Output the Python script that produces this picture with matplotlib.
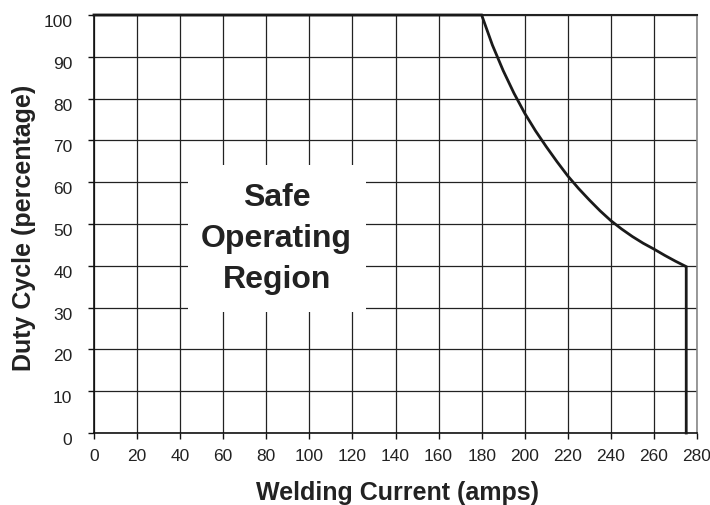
import matplotlib
matplotlib.use("Agg")
import matplotlib.pyplot as plt
from matplotlib.patches import Rectangle

plt.rcParams['font.family'] = ['Liberation Sans', 'DejaVu Sans']

# Duty cycle curve (welding current in amps, duty cycle in %)
current = [0, 180, 185, 190, 195, 200, 205, 210, 215, 220, 225, 230, 235,
           240, 245, 250, 255, 260, 265, 270, 275, 275]
duty = [100, 100, 92.8, 86.7, 81.3, 76.5, 72.3, 68.5, 64.9, 61.5, 58.5,
        55.75, 53.15, 50.8, 48.8, 47.0, 45.4, 44.0, 42.5, 41.1, 39.8, 0]

x_ticks = list(range(0, 281, 20))
y_ticks = list(range(0, 101, 10))
region_label = "Safe\nOperating\nRegion"
x_label = "Welding Current (amps)"
y_label = "Duty Cycle (percentage)"

fig = plt.figure(figsize=(7.1, 5.05), dpi=100)
ax = fig.add_axes([94/710, 1-433/505, (697-94)/710, (433-15)/505])

ax.set_xlim(0, 280)
ax.set_ylim(0, 100)
ax.set_xticks(x_ticks)
ax.set_yticks(y_ticks)
ax.set_axisbelow(True)
ax.grid(True, color='#222222', linewidth=0.9)

ax.add_patch(Rectangle((43.6, 28.9), 82.7, 35.2, facecolor='white',
                       edgecolor='none', zorder=1))

ax.plot(current, duty, color='#1a1a1a', linewidth=2.0, zorder=3,
        solid_joinstyle='miter', clip_on=False)

ax.text(84.8, 46.4, region_label, ha='center', va='center',
        fontsize=23, fontweight='bold', color='#222222', linespacing=1.48,
        zorder=4)

for s in ['left', 'bottom']:
    ax.spines[s].set_color('#111111')
    ax.spines[s].set_linewidth(1.2)
ax.spines['top'].set_color('#222222')
ax.spines['top'].set_linewidth(1.5)
ax.spines['right'].set_color('#888888')
ax.spines['right'].set_linewidth(1.2)

ax.tick_params(axis='both', direction='out', length=4.5, width=1.0,
               color='#111111', labelsize=12.5, labelcolor='#222222')
ax.tick_params(axis='y', pad=11)
ax.tick_params(axis='x', pad=7)
plt.setp(ax.get_yticklabels(), va='top')

fig.text(398/710, 1-493/505, x_label, ha='center', va='center',
         fontsize=18, fontweight='bold', color='#222222')
fig.text(24/710, 1-228/505, y_label, ha='center', va='center',
         rotation=90, fontsize=18, fontweight='bold', color='#222222')

fig.savefig("out.png", dpi=100)
